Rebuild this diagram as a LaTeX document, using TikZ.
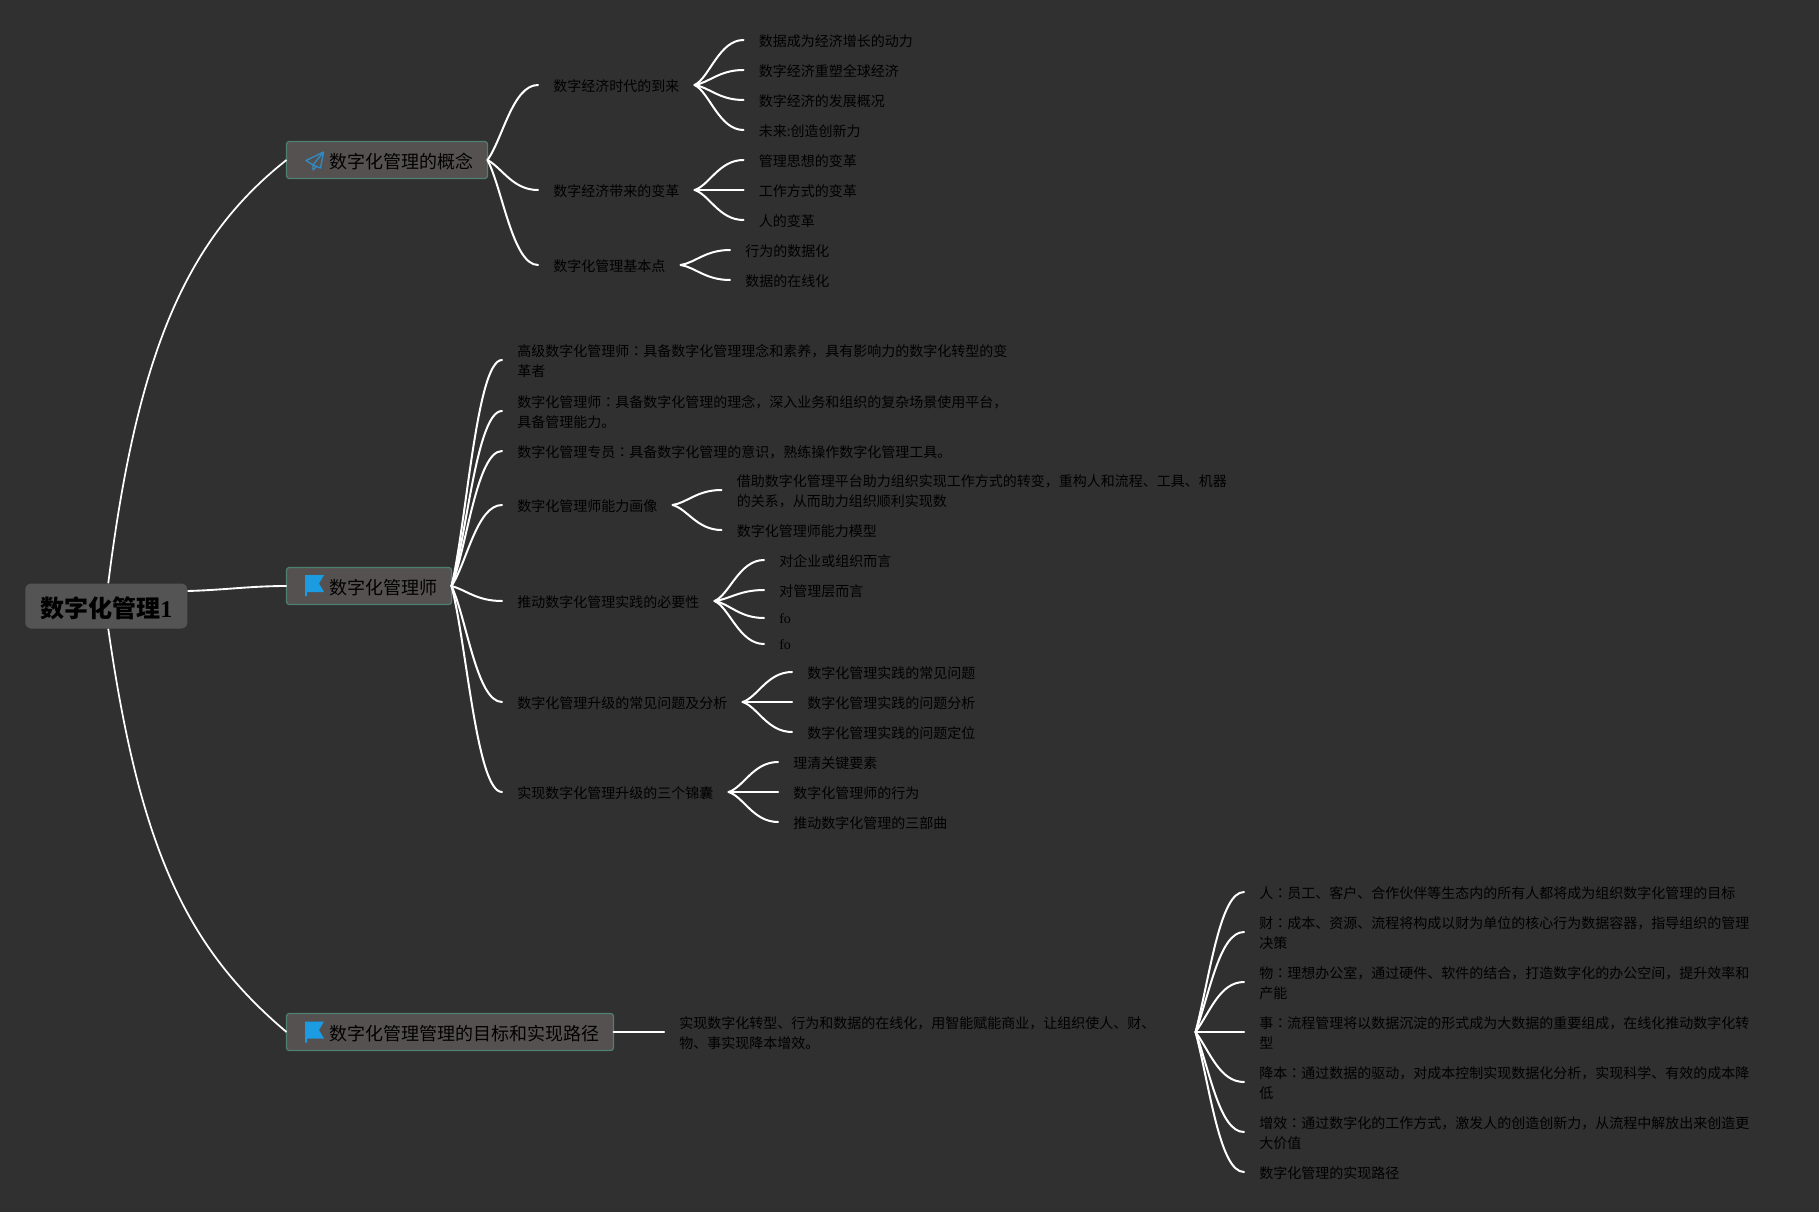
\documentclass[tikz,border=0pt]{standalone}
\usepackage{fontspec}
\usetikzlibrary{calc}
\setmainfont{Noto Sans CJK SC}
\newfontfamily\tcfont{Noto Sans CJK TC}
\newfontfamily\latinserif{Liberation Serif}
\newcommand{\cln}{{\tcfont ：}}
\definecolor{bgc}{HTML}{303030}
\definecolor{inkc}{HTML}{000000}
\definecolor{rootc}{HTML}{545454}
\definecolor{boxc}{HTML}{555151}
\definecolor{edgec}{HTML}{4F7F70}
\definecolor{flagc}{HTML}{1A9BE2}
\definecolor{planec}{HTML}{2E8BC4}
\tikzset{
  x=0.75pt,y=-0.75pt,
  rootbox/.style={fill=rootc,rounded corners=4.5pt,anchor=west,minimum height=33.75pt,minimum width=121.5pt,inner sep=0pt,text=inkc,text height=18pt,text depth=1.1pt,font=\fontsize{18pt}{22pt}\selectfont\bfseries},
  branchbox/.style={fill=boxc,draw=edgec,line width=0.9pt,rounded corners=2pt,anchor=west,minimum height=27.75pt,inner xsep=11.25pt,inner ysep=0pt,outer sep=0pt,text=inkc,text height=14pt,text depth=1pt,font=\fontsize{13.5pt}{16pt}\selectfont},
  topic/.style={anchor=west,inner xsep=11.25pt,inner ysep=1pt,text=inkc,align=left,font=\fontsize{10.5pt}{15pt}\selectfont},
  tw/.style={text width=#1*0.75pt},
  linkline/.style={draw=white,line width=1.5pt,line cap=round},
  rootline/.style={draw=white,line width=1.3pt},
}
% parent box -> topic: the topic's text sits 1px below its link end
\newcommand{\boxlink}[2]{\draw[linkline] let \p1=(#1.east),\p2=($(#2.west)+(0,-1)$) in (\p1) .. controls ({\x1+0.3*(\x2-\x1)},{\y1+0.28*(\y2-\y1)}) and ({\x2-0.5*(\x2-\x1)},\y2) .. (\p2);}
% topic -> topic; #1 is how far the first control point follows the vertical offset
\newcommand{\sublink}[3]{\draw[linkline] let \p1=($(#2.east)+(0,-1)$),\p2=($(#3.west)+(0,-1)$) in (\p1) .. controls ({\x1+0.3*(\x2-\x1)},{\y1+#1*(\y2-\y1)}) and ({\x2-0.5*(\x2-\x1)},\y2) .. (\p2);}
\begin{document}
\begin{tikzpicture}
\useasboundingbox[fill=bgc] (0,0) rectangle (1819,1212);
% root and main branches
\node[rootbox] (root) at (25,606) {数字化管理{\latinserif 1}};
\node[branchbox] (b1) at (286.5,160) {\hspace*{21pt}数字化管理的概念\hspace*{-0.75pt}};
\node[branchbox] (b2) at (286.5,586) {\hspace*{21pt}数字化管理师\hspace*{-0.75pt}};
\node[branchbox] (b3) at (286.5,1032) {\hspace*{21pt}数字化管理管理的目标和实现路径\hspace*{-0.75pt}};
% icons
\draw[planec,line width=1pt,line join=round] (323.5,152) -- (306,160.5) -- (313,165) -- (320.5,168) -- cycle (323.5,152) -- (313,165) -- (313,170) -- (316.5,166.5);
\fill[flagc] (305,575) -- (324,575) -- (319,583.5) -- (324,592) -- (307,592) -- (307,596) -- (305,596) -- cycle;
\fill[flagc] (305,1021.5) -- (324,1021.5) -- (319,1030) -- (324,1038.5) -- (307,1038.5) -- (307,1042.5) -- (305,1042.5) -- cycle;
% root links
\draw[rootline] ($(root.north)+(2,0)$) .. controls (137,355) and (185,240) .. (b1.west);
\draw[rootline] ($(root.south)+(2,0)$) .. controls (140,850) and (187,948) .. (b3.west);
\draw[rootline,line width=1.4pt] ($(root.east)+(0,-15)$) .. controls (225,590) and (250,586) .. (b2.west);
% branch 1
\node[topic,tw=126] (a1) at (538,86) {数字经济时代的到来};
\node[topic,tw=126] (a2) at (538,191) {数字经济带来的变革};
\node[topic,tw=112] (a3) at (538,266) {数字化管理基本点};
\node[topic] (a11) at (743.5,41) {数据成为经济增长的动力};
\node[topic] (a12) at (743.5,71) {数字经济重塑全球经济};
\node[topic] (a13) at (743.5,101) {数字经济的发展概况};
\node[topic] (a14) at (743.5,131) {未来:创造创新力};
\node[topic] (a21) at (743.5,161) {管理思想的变革};
\node[topic] (a22) at (743.5,191) {工作方式的变革};
\node[topic] (a23) at (743.5,221) {人的变革};
\node[topic] (a31) at (730,251) {行为的数据化};
\node[topic] (a32) at (730,281) {数据的在线化};
% branch 2
\node[topic] (c1) at (502,361) {高级数字化管理师\cln 具备数字化管理理念和素养，具有影响力的数字化转型的变\\革者};
\node[topic] (c2) at (502,412) {数字化管理师\cln 具备数字化管理的理念，深入业务和组织的复杂场景使用平台，\\具备管理能力。};
\node[topic] (c3) at (502,452) {数字化管理专员\cln 具备数字化管理的意识，熟练操作数字化管理工具。};
\node[topic,tw=140] (c4) at (502,506) {数字化管理师能力画像};
\node[topic,tw=182] (c5) at (502,602) {推动数字化管理实践的必要性};
\node[topic,tw=210] (c6) at (502,703) {数字化管理升级的常见问题及分析};
\node[topic,tw=196] (c7) at (502,793) {实现数字化管理升级的三个锦囊};
\node[topic] (c41) at (721.5,491) {借助数字化管理平台助力组织实现工作方式的转变，重构人和流程、工具、机器\\的关系，从而助力组织顺利实现数};
\node[topic] (c42) at (721.5,531) {数字化管理师能力模型};
\node[topic] (c51) at (764,561) {对企业或组织而言};
\node[topic] (c52) at (764,591) {对管理层而言};
\node[topic,font=\fontsize{10.5pt}{15pt}\latinserif] (c53) at (764,619) {fo};
\node[topic,font=\fontsize{10.5pt}{15pt}\latinserif] (c54) at (764,645) {fo};
\node[topic] (c61) at (792,673) {数字化管理实践的常见问题};
\node[topic] (c62) at (792,703) {数字化管理实践的问题分析};
\node[topic] (c63) at (792,733) {数字化管理实践的问题定位};
\node[topic] (c71) at (778,763) {理清关键要素};
\node[topic] (c72) at (778,793) {数字化管理师的行为};
\node[topic] (c73) at (778,823) {推动数字化管理的三部曲};
% branch 3
\node[topic,tw=501] (d) at (664,1033) {实现数字化转型、行为和数据的在线化，用智能赋能商业，让组织使人、财、\\物、事实现降本增效。};
\node[topic] (d1) at (1244,893) {人\cln 员工、客户、合作伙伴等生态内的所有人都将成为组织数字化管理的目标};
\node[topic] (d2) at (1244,933) {财\cln 成本、资源、流程将构成以财为单位的核心行为数据容器，指导组织的管理\\决策};
\node[topic] (d3) at (1244,983) {物\cln 理想办公室，通过硬件、软件的结合，打造数字化的办公空间，提升效率和\\产能};
\node[topic] (d4) at (1244,1033) {事\cln 流程管理将以数据沉淀的形式成为大数据的重要组成，在线化推动数字化转\\型};
\node[topic] (d5) at (1244,1083) {降本\cln 通过数据的驱动，对成本控制实现数据化分析，实现科学、有效的成本降\\低};
\node[topic] (d6) at (1244,1133) {增效\cln 通过数字化的工作方式，激发人的创造创新力，从流程中解放出来创造更\\大价值};
\node[topic] (d7) at (1244,1173) {数字化管理的实现路径};
% links
\foreach \fa/\ch in {b1/a1,b1/a2,b1/a3,b2/c1,b2/c2,b2/c3,b2/c4,b2/c5,b2/c6,b2/c7,b3/d}{\boxlink{\fa}{\ch}}
\foreach \fa/\ch in {a1/a11,a1/a12,a1/a13,a1/a14,a2/a21,a2/a22,a2/a23,a3/a31,a3/a32,
  c4/c41,c4/c42,c5/c51,c5/c52,c5/c53,c5/c54,c6/c61,c6/c62,c6/c63,c7/c71,c7/c72,c7/c73}{\sublink{0.15}{\fa}{\ch}}
\foreach \fa/\ch in {d/d1,d/d2,d/d3,d/d4,d/d5,d/d6,d/d7}{\sublink{0.4}{\fa}{\ch}}
\end{tikzpicture}
\end{document}
